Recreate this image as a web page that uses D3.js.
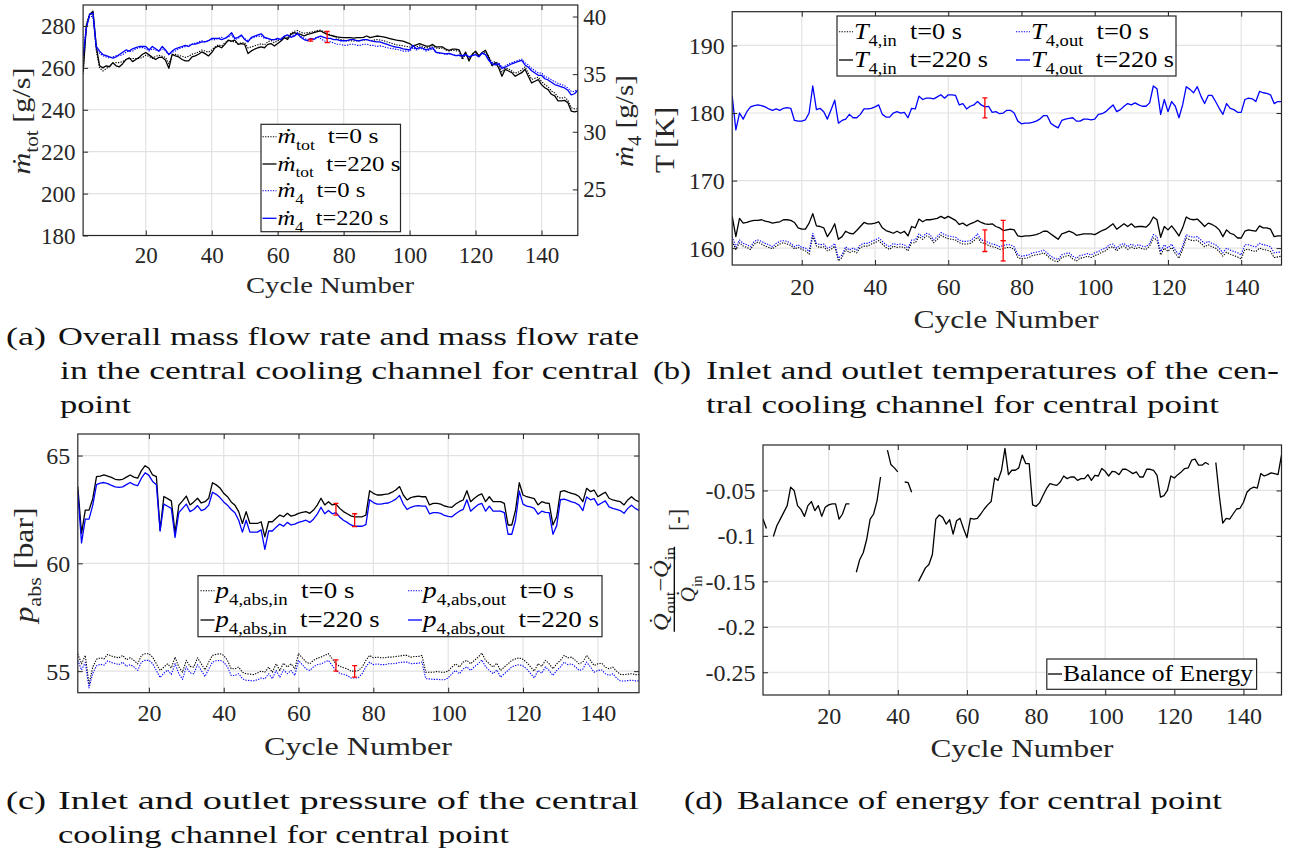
<!DOCTYPE html>
<html>
<head>
<meta charset="utf-8">
<script src="https://cdn.jsdelivr.net/npm/d3@7"></script>
<style>
  html, body { margin: 0; padding: 0; background: #fff; }
  svg { display: block; }
</style>
</head>
<body>
<svg id="fig" width="1301" height="858"></svg>
<script>
// ---- Data: cycle numbers and measured series ----
const cycles = d3.range(1, 152);
const xTicks = [20, 40, 60, 80, 100, 120, 140];

// (a) overall mass flow [g/s] and channel-4 mass flow [g/s]
const mTot0 = [257,281,286,285,268,260,258.5,259.5,261,262,
262.5,262.5,263,264,264.5,264.5,264.5,264.5,265,266,
265.5,264.5,265.5,266,265.5,265,262,266,266.5,266,
265.5,265,265.5,266.5,267,267.5,268.5,268,267.5,268.5,
270,271,270.5,272,273,272.5,272.5,271.5,272,272,
269.5,270,270.5,271,271.5,271,272.5,273,272,273,
273.5,275,274.5,276.5,277.5,277.8,277,276.5,276.8,277,
277.3,277.8,278,277.3,276.5,275.8,275,274,273.5,273.2,
273,273,272.8,273,273,273.2,273.5,273,273.2,273.5,
273.3,273,272.5,272,271.5,271,270.8,270.5,270.2,270,
269.5,270,270.5,270,269.5,269.8,270.5,269.5,269.3,269.5,
268.5,268,268.5,268.2,268,264,266.5,264,266.5,267.5,
265.5,267,267.5,265.5,262.5,263,261.5,258,260,259.5,
258.5,257.5,258,259,260.5,257.5,254.5,255,255.5,253.5,
252,251,249,248,246,245.5,246,244.5,241,240.5,
240.5];
const mTot220 = [258,280,285.5,287,270,261,260,261,260.5,262.5,
261,260.5,262,264,264.8,263,264,265,266.5,267.3,
266.2,265,264,265,265,263.6,259.8,266.5,265.7,265.2,
264,263.3,263.3,265.2,265.7,266.5,267.6,266.8,265.7,267.3,
269.6,270.4,269.6,271.2,273.2,272.8,273.2,271.2,271.6,271.2,
266.8,268.1,268.9,269.6,270,269.6,271.2,271.6,270.4,271.6,
272.8,274.4,273.6,276,276.8,276.3,276,275.2,276,276.3,
276.8,277.3,277.6,276.8,276,275.5,275.2,274.8,274.6,274.4,
274.4,274.4,274.2,274.4,274.4,274.6,275.2,274.4,274.8,275.2,
275,274.8,274.4,274,273.6,273.2,273,272.8,272.2,271.6,
270.4,271,271.6,271,270.4,270.4,271.2,270,270,270,
268.9,268.4,268.9,268.9,268.6,265,267.5,263.3,266.5,268,
265.7,267.3,268.4,264.9,261,262.5,260.1,256,259.3,258.5,
257.7,256,256.9,257.7,259.3,256,252.8,253.6,254.4,252,
250.5,249.6,247.4,246.6,244.2,244.2,244.5,243.4,239.4,239,
239.4];
const m4_0 = [36.8,39.2,40.0,40.0,37.2,36.8,36.6,36.5,36.4,36.5,
36.6,36.6,36.7,36.9,37.0,37.0,37.2,37.3,37.3,37.2,
37.0,37.2,37.1,37.0,37.2,37.0,36.7,36.9,37.0,37.2,
37.3,37.4,37.5,37.6,37.7,37.8,37.9,37.8,37.9,38.0,
38.0,38.1,38.2,38.1,38.2,38.4,38.0,38.1,38.3,38.1,
37.9,38.1,38.2,38.3,38.3,38.1,38.1,38.0,38.0,38.0,
38.1,38.3,38.4,38.3,38.4,38.6,38.3,38.1,38.0,38.0,
38.1,38.2,38.1,37.9,37.8,37.8,37.7,37.6,37.6,37.5,
37.5,37.6,37.6,37.5,37.5,37.6,37.6,37.5,37.5,37.4,
37.45,37.4,37.3,37.25,37.2,37.15,37.1,37.0,37.0,37.0,
37.3,37.1,37.2,37.2,37.0,37.1,37.2,36.9,36.8,36.8,
36.7,36.75,36.7,36.6,36.6,36.5,36.7,36.5,36.6,36.75,
36.5,36.8,36.7,36.3,36.0,35.9,36.0,35.6,35.7,35.9,
36.0,36.1,36.2,36.3,36.0,35.8,35.5,35.3,35.1,35.1,
34.8,34.7,34.5,34.35,34.2,34.1,34.0,33.8,33.5,33.5,
33.7];
const m4_220 = [36.5,39.0,40.2,40.3,37.4,37.0,36.7,36.6,36.5,36.4,
36.5,36.7,36.9,37.1,37.0,37.2,37.3,37.4,37.4,37.4,
37.1,37.4,37.2,37.0,37.4,37.1,36.7,37.0,37.2,37.3,
37.4,37.5,37.4,37.6,37.6,37.7,37.8,37.8,37.9,38.1,
38.1,38.1,38.0,38.1,38.3,38.6,38.1,38.2,38.4,38.0,
37.8,38.2,38.3,38.4,38.5,38.2,38.1,38.0,38.0,38.1,
38.0,38.3,38.4,38.2,38.3,38.5,38.2,38.0,37.9,38.1,
38.0,38.2,38.3,38.2,38.1,38.1,38.0,38.0,37.9,37.9,
37.9,38.0,38.0,37.9,37.9,38.0,38.0,37.9,37.85,37.8,
37.8,37.7,37.6,37.5,37.4,37.35,37.3,37.2,37.15,37.1,
37.5,37.2,37.3,37.25,37.1,37.2,37.3,36.9,36.85,36.8,
36.75,36.8,36.7,36.6,36.65,36.6,36.7,36.5,36.6,36.7,
36.5,36.85,36.7,36.2,35.9,35.8,35.9,35.5,35.6,35.75,
35.9,36.0,36.1,36.2,35.8,35.6,35.3,35.1,34.9,34.9,
34.6,34.5,34.3,34.1,34.0,33.9,33.8,33.6,33.2,33.3,
33.6];
const errA = [{c: 70, v: 37.95, e: 0.09}, {c: 75, v: 38.22, e: 0.48}];

// (b) channel-4 inlet / outlet temperature [K]
const tIn0 = [161.0,159.8,160.8,160.3,160.1,159.8,160.6,160.9,160.6,160.3,
160.1,159.9,160.3,160.6,160.8,160.6,160.4,159.9,160.1,159.8,
159.6,159.1,161.8,160.3,160.1,160.2,159.6,159.8,160.3,158.1,
158.6,159.8,159.3,159.6,159.3,160.1,160.3,160.3,160.6,160.8,
161.1,160.6,160.1,159.8,160.3,160.1,160.2,160.1,159.6,160.8,
160.8,161.7,161.3,161.8,161.6,160.8,161.3,161.9,161.6,161.4,
161.3,161.2,160.8,160.6,160.6,160.7,161.1,161.6,160.8,160.7,
160.4,160.2,160.1,159.8,159.9,160.1,160.1,159.8,158.6,158.4,
158.5,158.6,158.9,159.0,159.1,159.3,158.9,158.4,158.1,158.0,
158.6,158.8,158.9,158.4,158.1,158.5,158.6,158.8,158.6,158.9,
159.1,159.4,159.6,160.1,160.2,159.6,160.1,160.3,159.8,160.2,
159.9,160.1,159.9,159.8,160.3,161.5,161.2,159.0,160.0,159.5,
160.1,159.2,158.5,159.8,161.5,161.2,161.1,161.2,160.7,160.2,
160.5,160.2,160.0,159.5,158.8,159.4,159.1,158.9,158.7,158.4,
159.8,159.8,159.6,159.5,160.0,159.8,159.7,159.5,158.6,158.7,
158.8];
const tIn220 = [164.7,161.7,164.4,163.7,163.8,164.0,164.1,164.1,164.2,164.0,
163.9,163.7,163.8,163.9,164.2,164.2,164.1,163.8,163.0,162.8,
162.8,163.7,165.1,163.3,163.2,163.0,161.7,162.5,163.6,161.3,
161.7,162.5,162.2,162.1,162.6,163.2,163.8,163.6,163.6,163.7,
163.9,163.0,162.6,162.4,162.2,162.5,162.2,162.5,161.8,163.2,
163.0,164.3,163.9,164.2,164.2,164.3,164.4,164.7,164.4,164.7,
164.4,164.1,163.5,163.7,163.3,163.6,163.8,164.1,163.8,163.6,
163.5,163.6,163.2,163.0,162.6,162.7,162.8,162.7,161.8,161.7,
161.8,161.8,161.9,162.0,162.2,162.5,162.5,162.1,161.7,161.3,
162.1,162.3,162.5,162.3,161.9,162.0,162.1,162.1,162.1,162.0,
162.3,162.6,162.8,163.2,163.6,162.8,163.2,163.6,163.2,163.6,
163.1,163.2,163.2,163.1,163.6,164.6,164.2,161.6,163.2,162.7,
163.3,162.6,161.8,163.0,164.6,164.3,164.2,164.3,163.8,163.2,
163.7,163.5,163.2,162.7,161.7,162.7,162.2,162.0,161.5,161.5,
162.5,162.7,162.6,162.5,163.3,163.0,163.0,162.8,161.7,161.8,
161.8];
const tOut0 = [161.7,160.2,161.2,160.7,160.5,160.2,161.0,161.2,161.0,160.7,
160.5,160.2,160.7,161.0,161.1,161.0,160.7,160.2,160.5,160.1,
160.0,159.5,162.2,160.7,160.5,160.6,160.0,160.2,160.7,158.5,
159.0,160.2,159.7,160.0,159.7,160.5,160.7,160.7,161.0,161.2,
161.5,161.0,160.5,160.2,160.7,160.5,160.6,160.5,160.0,161.2,
161.2,162.1,161.7,162.2,162.0,161.2,161.7,162.3,162.0,161.8,
161.7,161.6,161.2,161.0,161.0,161.1,161.5,162.1,161.2,161.1,
160.8,160.6,160.5,160.2,160.4,160.5,160.5,160.2,159.0,158.8,
158.9,159.0,159.3,159.4,159.5,159.7,159.3,158.8,158.5,158.3,
159.0,159.2,159.3,158.8,158.5,158.9,159.0,159.2,159.0,159.3,
159.5,159.8,160.0,160.5,160.6,160.0,160.5,160.7,160.2,160.6,
160.3,160.5,160.3,160.2,160.7,162.0,161.7,159.5,160.5,160.0,
160.6,159.7,159.0,160.3,162.0,161.7,161.6,161.7,161.2,160.7,
161.0,160.7,160.5,160.0,159.3,160.0,159.7,159.5,159.3,159.0,
160.5,160.5,160.3,160.2,160.7,160.5,160.4,160.2,159.3,159.4,
159.4];
const tOut220 = [182.5,177.5,180.0,179.1,180.2,180.9,181.1,181.2,181.1,180.9,
180.6,180.4,180.6,180.4,180.7,180.8,180.7,178.9,178.8,178.8,
179.0,180.0,184.0,180.5,180.7,180.2,179.1,180.5,181.9,178.5,
178.9,179.1,179.8,179.3,179.3,179.8,180.6,180.6,180.7,180.9,
181.2,179.8,179.4,179.4,180.0,180.2,180.0,180.1,179.3,180.7,
180.6,182.5,182.0,182.2,182.2,182.1,182.4,182.7,182.2,182.7,
182.7,182.6,181.2,181.4,180.6,181.0,181.2,181.7,181.2,180.9,
181.0,180.1,180.2,179.9,180.0,180.4,180.4,180.0,178.8,178.4,
178.5,178.5,178.6,178.8,179.1,179.6,179.6,178.5,178.1,177.8,
178.9,179.1,179.2,179.3,178.8,178.8,179.1,179.1,179.0,179.1,
179.8,179.9,180.2,180.7,181.2,180.2,180.5,181.0,181.4,181.2,
181.5,181.2,181.0,181.0,181.5,184.0,183.6,179.8,182.0,180.2,
181.7,181.0,179.3,181.2,183.9,183.5,183.0,183.9,182.5,181.4,
182.6,182.6,181.7,180.7,179.8,181.4,180.7,180.5,180.1,180.1,
182.0,182.2,182.1,181.7,183.2,183.0,182.9,182.7,181.4,181.7,
181.7];
const errB = [{c: 70, v: 180.75, e: 1.48}, {c: 70, v: 161.1, e: 1.6},
              {c: 75, v: 162.6, e: 1.5}, {c: 75, v: 159.6, e: 1.5}];

// (c) channel-4 inlet / outlet absolute pressure [bar]
const pIn0 = [55.8,55.34,55.73,54.38,55.19,55.55,55.62,55.57,55.78,55.7,
55.65,55.62,55.73,55.53,55.62,55.5,55.34,55.73,55.81,55.81,
55.65,55.34,55.03,55.19,55.34,55.15,55.65,55.19,54.95,55.5,
55.22,55.19,55.62,55.34,55.06,55.42,55.73,55.78,55.81,55.73,
55.5,55.11,55.11,55.19,54.95,54.88,54.86,54.84,54.91,55.0,
54.95,55.19,54.95,55.34,55.03,55.37,55.19,55.34,55.11,55.81,
55.62,55.42,55.34,55.5,55.6,55.65,55.73,55.81,55.57,55.34,
55.22,55.16,55.11,55.0,55.0,55.03,55.19,55.5,55.73,55.62,
55.65,55.62,55.62,55.65,55.65,55.68,55.7,55.73,55.73,55.65,
55.68,55.68,55.73,54.95,54.95,54.95,54.98,54.95,54.95,55.0,
55.19,55.34,55.19,55.42,55.5,55.34,55.5,55.65,55.84,55.5,
55.34,55.19,55.37,55.03,55.19,55.34,55.5,55.57,55.62,55.55,
55.4,55.2,55.0,55.34,55.22,55.5,55.34,55.11,55.34,55.5,
55.73,55.62,55.65,55.5,55.34,55.42,55.73,55.5,55.26,55.34,
55.37,55.19,55.11,55.19,55.0,54.85,54.84,54.86,54.88,54.84,
54.84];
const pIn220 = [63.56,61.39,62.47,62.47,63.0,64.02,64.05,64.1,64.05,63.99,
63.9,63.87,63.9,64.0,64.1,64.0,63.95,64.3,64.53,64.41,
64.1,64.02,61.54,63.1,63.0,62.9,61.42,62.7,62.9,63.12,
62.71,62.85,63.02,62.8,62.86,63.02,63.74,63.64,63.5,63.25,
63.09,62.85,62.7,62.4,61.85,62.4,61.85,61.85,61.85,61.93,
61.23,61.93,61.93,62.09,62.24,62.16,62.32,62.19,62.24,62.32,
62.36,62.4,62.32,62.47,62.7,63.02,62.71,62.86,62.71,62.75,
62.55,62.4,62.3,62.2,62.16,62.16,62.16,62.24,63.37,63.25,
63.17,63.17,63.2,63.22,63.3,63.4,63.56,63.17,62.94,63.05,
63.09,63.12,63.09,63.09,62.71,62.78,62.78,62.75,62.66,62.62,
62.6,62.75,62.86,62.94,63.37,62.86,63.02,63.15,63.22,62.86,
63.09,62.86,62.86,62.86,62.78,61.78,61.78,62.47,63.74,63.17,
63.09,63.05,63.0,62.71,62.86,62.8,62.78,61.78,62.16,63.33,
63.37,63.3,63.25,63.2,63.1,62.86,63.48,63.33,63.4,63.09,
63.2,63.3,63.02,62.94,62.9,62.86,62.71,62.94,63.09,62.94,
62.86];
const pOut0 = [55.5,55.05,55.4,54.22,54.9,55.25,55.32,55.28,55.48,55.4,
55.35,55.3,55.42,55.22,55.3,55.2,55.03,55.42,55.5,55.5,
55.35,55.03,54.7,54.9,55.05,54.85,55.35,54.88,54.62,55.2,
54.92,54.88,55.3,55.03,54.75,55.1,55.42,55.48,55.5,55.42,
55.2,54.8,54.8,54.88,54.65,54.58,54.56,54.55,54.6,54.68,
54.64,54.88,54.65,55.03,54.72,55.06,54.88,55.03,54.8,55.5,
55.3,55.1,55.03,55.2,55.3,55.33,55.42,55.5,55.26,55.03,
54.9,54.85,54.8,54.68,54.68,54.7,54.88,55.2,55.42,55.3,
55.34,55.3,55.3,55.34,55.34,55.36,55.4,55.42,55.42,55.34,
55.36,55.36,55.42,54.65,54.64,54.62,54.62,54.6,54.6,54.68,
54.88,55.03,54.88,55.1,55.2,55.03,55.2,55.34,55.52,55.2,
55.03,54.88,55.06,54.72,54.88,55.03,55.2,55.26,55.3,55.24,
55.1,54.9,54.68,55.03,54.9,55.2,55.03,54.8,55.03,55.2,
55.42,55.3,55.34,55.2,55.03,55.1,55.42,55.2,54.95,55.03,
55.06,54.88,54.8,54.88,54.68,54.55,54.54,54.56,54.58,54.55,
54.55];
const pOut220 = [63.3,60.95,62.05,62.05,62.7,63.65,63.72,63.75,63.7,63.62,
63.55,63.52,63.55,63.65,63.75,63.65,63.6,63.95,64.2,64.08,
63.8,63.65,61.5,62.75,62.65,62.55,61.2,62.35,62.55,62.75,
62.4,62.5,62.68,62.45,62.52,62.7,63.3,63.2,63.05,62.85,
62.7,62.5,62.35,62.0,61.45,62.0,61.45,61.45,61.45,61.55,
60.65,61.5,61.5,61.68,61.82,61.72,61.9,61.78,61.82,61.9,
61.95,62.0,61.9,62.05,62.28,62.6,62.3,62.45,62.3,62.35,
62.15,62.0,61.9,61.78,61.72,61.72,61.72,61.8,62.95,62.82,
62.75,62.75,62.78,62.8,62.88,62.98,63.15,62.75,62.5,62.6,
62.65,62.68,62.65,62.65,62.3,62.35,62.35,62.32,62.22,62.18,
62.16,62.3,62.42,62.5,62.95,62.42,62.58,62.72,62.78,62.42,
62.65,62.42,62.42,62.42,62.35,61.35,61.35,62.0,63.35,62.75,
62.65,62.62,62.55,62.28,62.42,62.36,62.35,61.35,61.75,62.95,
62.98,62.92,62.85,62.8,62.7,62.45,63.08,62.95,63.0,62.7,
62.8,62.9,62.62,62.55,62.5,62.45,62.32,62.55,62.7,62.55,
62.45];
const errC = [{c: 70, v: 62.51, e: 0.27}, {c: 75, v: 62.0, e: 0.3},
              {c: 70, v: 55.26, e: 0.26}, {c: 75, v: 54.99, e: 0.27}];

// (d) relative energy balance (Q_out - Q_in) / Q_in; null = no valid value
const energy = [-0.0815,-0.0919,null,-0.1007,-0.0889,-0.0815,-0.0741,-0.0667,-0.0463,-0.05,
-0.0667,-0.0711,-0.0785,-0.0667,-0.0622,-0.0722,-0.0667,-0.0785,-0.0685,-0.0659,
-0.0648,-0.0648,-0.0815,-0.0759,-0.0648,-0.0648,null,-0.14,-0.1259,-0.1185,
-0.1037,-0.0815,-0.0759,-0.0611,-0.0352,null,-0.0056,-0.0215,-0.0252,-0.0296,
null,-0.0407,-0.0415,-0.0519,null,-0.15,-0.1426,-0.1352,-0.1315,-0.1204,
-0.0815,-0.077,-0.0796,-0.087,-0.0822,-0.0981,-0.0833,-0.0807,-0.0919,-0.1019,
-0.0807,-0.0815,-0.0807,-0.0759,-0.0704,-0.0659,-0.0622,-0.0363,-0.0389,-0.0278,
-0.0037,-0.0326,-0.0278,-0.0278,-0.0252,-0.0111,-0.0204,-0.0204,-0.0659,-0.0674,
-0.0637,-0.0556,-0.0481,-0.0426,-0.0437,-0.0444,-0.0407,-0.0341,-0.037,-0.0352,
-0.0352,-0.0389,-0.037,-0.037,-0.0326,-0.0389,-0.0333,-0.0341,-0.0259,-0.0289,
-0.0341,-0.0289,-0.0296,-0.0326,-0.0267,-0.0267,-0.0289,-0.0315,-0.0296,-0.0352,
-0.0352,-0.0267,-0.0267,-0.0278,-0.0333,-0.0574,-0.0556,-0.05,-0.0341,-0.0363,
-0.0326,-0.0296,-0.0259,-0.0252,-0.0167,-0.0156,-0.0222,-0.0222,-0.0193,-0.0215,
null,-0.0193,-0.0556,-0.0859,-0.0807,-0.0815,-0.0759,-0.0704,-0.0696,-0.063,
-0.0519,-0.0481,-0.0463,-0.0474,-0.0315,-0.0341,-0.0326,-0.0307,-0.0315,-0.0326,
-0.0111];

// ---- Drawing ----
const FONT = "'Liberation Serif', 'DejaVu Serif', serif";
const AXC = '#262626';
const GRID = '#e2e2e2';
const BLUE = '#0000ff';
const svg = d3.select('#fig');
svg.append('rect').attr('width', 1301).attr('height', 858).attr('fill', '#fff');

// text made of plain / italic / subscript pieces
function rich(sel, segs, fs) {
  let shift = 0;
  segs.forEach(s => {
    const t = sel.append('tspan').text(s.t);
    const target = s.sub ? fs * 0.3 : 0;
    if (target !== shift) { t.attr('dy', target - shift); shift = target; }
    if (s.sub) t.attr('font-size', fs * 0.7);
    if (s.it) t.attr('font-style', 'italic');
  });
}

function makePanel(p) {
  const g = svg.append('g');
  const x = d3.scaleLinear().domain([1, 151]).range([p.x0, p.x1]);
  const y = d3.scaleLinear().domain(p.yDom).range([p.y1, p.y0]);
  const yR = p.yRDom ? d3.scaleLinear().domain(p.yRDom).range([p.y1, p.y0]) : null;

  // grid
  g.append('g').selectAll('line').data(xTicks).join('line')
    .attr('x1', d => x(d)).attr('x2', d => x(d)).attr('y1', p.y0).attr('y2', p.y1)
    .attr('stroke', GRID).attr('stroke-width', 1.2);
  g.append('g').selectAll('line').data(p.yTicks).join('line')
    .attr('x1', p.x0).attr('x2', p.x1).attr('y1', d => y(d)).attr('y2', d => y(d))
    .attr('stroke', GRID).attr('stroke-width', 1.2);

  // clipped data layer
  const clipId = 'clip' + p.id;
  svg.append('clipPath').attr('id', clipId).append('rect')
    .attr('x', p.x0).attr('y', p.y0).attr('width', p.x1 - p.x0).attr('height', p.y1 - p.y0);
  const dl = g.append('g').attr('clip-path', `url(#${clipId})`);

  p.series.forEach(s => {
    const sc = s.right ? yR : y;
    const line = d3.line().defined(d => d[1] != null)
      .x(d => x(d[0])).y(d => sc(d[1]));
    dl.append('path').datum(cycles.map((c, i) => [c, s.values[i]]))
      .attr('d', line).attr('fill', 'none')
      .attr('stroke', s.color).attr('stroke-width', s.dash ? 1.1 : 1.3)
      .attr('stroke-dasharray', s.dash ? '1.3,1.3' : null)
      .attr('stroke-linejoin', 'round');
  });

  (p.err || []).forEach(e => {
    const sc = p.errRight ? yR : y;
    const cx = x(e.c), ya = sc(e.v + e.e), yb = sc(e.v - e.e);
    const eg = dl.append('g').attr('stroke', '#ff0000').attr('stroke-width', 1.3);
    eg.append('line').attr('x1', cx).attr('x2', cx).attr('y1', ya).attr('y2', yb);
    eg.append('line').attr('x1', cx - 2.5).attr('x2', cx + 2.5).attr('y1', ya).attr('y2', ya);
    eg.append('line').attr('x1', cx - 2.5).attr('x2', cx + 2.5).attr('y1', yb).attr('y2', yb);
  });

  // axes (inward ticks)
  const styleAxis = (ag, fs) => {
    ag.attr('font-family', FONT).attr('font-size', fs);
    ag.select('.domain').remove();
    ag.selectAll('.tick line').attr('stroke', AXC).attr('stroke-width', 1);
    ag.selectAll('.tick text').attr('fill', AXC);
  };
  const ab = g.append('g').attr('transform', `translate(0,${p.y1})`)
    .call(d3.axisBottom(x).tickValues(xTicks).tickSize(-5).tickFormat(d3.format('d')));
  styleAxis(ab, p.fs);
  ab.selectAll('.tick text').attr('y', p.xLabY - p.y1).attr('dy', 0);
  const at = g.append('g').attr('transform', `translate(0,${p.y0})`)
    .call(d3.axisTop(x).tickValues(xTicks).tickSize(-5).tickFormat(''));
  styleAxis(at, p.fs);
  const al = g.append('g').attr('transform', `translate(${p.x0},0)`)
    .call(d3.axisLeft(y).tickValues(p.yTicks).tickSize(-5).tickPadding(7.5).tickFormat(p.yFmt));
  styleAxis(al, p.fs);
  al.selectAll('.tick text').attr('dy', '0.33em');
  if (yR) {
    const ar = g.append('g').attr('transform', `translate(${p.x1},0)`)
      .call(d3.axisRight(yR).tickValues(p.yRTicks).tickSize(-5).tickPadding(5.5).tickFormat(d3.format('d')));
    styleAxis(ar, p.fs);
    ar.selectAll('.tick text').attr('dy', '0.33em');
  } else {
    const ar = g.append('g').attr('transform', `translate(${p.x1},0)`)
      .call(d3.axisRight(y).tickValues(p.yTicks).tickSize(-5).tickFormat(''));
    styleAxis(ar, p.fs);
  }

  // box
  g.append('rect').attr('x', p.x0).attr('y', p.y0)
    .attr('width', p.x1 - p.x0).attr('height', p.y1 - p.y0)
    .attr('fill', 'none').attr('stroke', AXC).attr('stroke-width', 1.2);

  // x label
  g.append('text').attr('x', p.xTitle[0]).attr('y', p.xTitle[1])
    .attr('text-anchor', 'middle').attr('font-family', FONT).attr('font-size', p.fs + 1)
    .attr('fill', AXC).attr('textLength', p.xTitle[2]).attr('lengthAdjust', 'spacingAndGlyphs')
    .text('Cycle Number');

  // legend
  if (p.legend) {
    const L = p.legend;
    const lg = g.append('g');
    lg.append('rect').attr('x', L.box[0]).attr('y', L.box[1])
      .attr('width', L.box[2] - L.box[0]).attr('height', L.box[3] - L.box[1])
      .attr('fill', '#fff').attr('stroke', AXC).attr('stroke-width', 1.2);
    L.items.forEach(it => {
      lg.append('line').attr('x1', it.x).attr('x2', it.x + 14).attr('y1', it.y).attr('y2', it.y)
        .attr('stroke', it.color).attr('stroke-width', it.dash ? 1.1 : 1.3)
        .attr('stroke-dasharray', it.dash ? '1.3,1.3' : null);
      const t = lg.append('text').attr('x', it.x + 15).attr('y', it.y + L.fs * 0.3)
        .attr('font-family', FONT).attr('font-size', L.fs).attr('fill', '#000');
      rich(t, it.label, L.fs);
      if (it.w) t.attr('textLength', it.w).attr('lengthAdjust', 'spacingAndGlyphs');
    });
  }
  return {x, y, yR, g};
}

const mdot = '\u1E41';
const gap = '\u00a0\u00a0';

// (a)
makePanel({
  id: 'a', x0: 83.1, x1: 577.8, y0: 5, y1: 235.5, fs: 23,
  yDom: [180, 290], yTicks: [180, 200, 220, 240, 260, 280], yFmt: d3.format('d'),
  yRDom: [21, 41], yRTicks: [25, 30, 35, 40],
  xLabY: 263, xTitle: [330, 293, 168],
  series: [
    {values: mTot0, color: '#000', dash: true},
    {values: mTot220, color: '#000'},
    {values: m4_0, color: BLUE, dash: true, right: true},
    {values: m4_220, color: BLUE, right: true}
  ],
  err: errA, errRight: true,
  legend: {box: [261, 124.3, 400.5, 231.7], fs: 22, items: [
    {x: 262.5, y: 136.7, w: 101, color: '#000', dash: true, label: [{t: mdot, it: 1}, {t: 'tot', sub: 1}, {t: gap + 't=0 s'}]},
    {x: 262.5, y: 164, w: 123, color: '#000', label: [{t: mdot, it: 1}, {t: 'tot', sub: 1}, {t: gap + 't=220 s'}]},
    {x: 262.5, y: 190.7, w: 88, color: BLUE, dash: true, label: [{t: mdot, it: 1}, {t: '4', sub: 1}, {t: gap + 't=0 s'}]},
    {x: 262.5, y: 218.3, w: 111, color: BLUE, label: [{t: mdot, it: 1}, {t: '4', sub: 1}, {t: gap + 't=220 s'}]}
  ]}
});

// (b)
makePanel({
  id: 'b', x0: 732.2, x1: 1281.5, y0: 11.7, y1: 265, fs: 24,
  yDom: [157.5, 195], yTicks: [160, 170, 180, 190], yFmt: d3.format('d'),
  xLabY: 294.5, xTitle: [1006, 328, 185],
  series: [
    {values: tIn0, color: '#000', dash: true},
    {values: tIn220, color: '#000'},
    {values: tOut0, color: BLUE, dash: true},
    {values: tOut220, color: BLUE}
  ],
  err: errB,
  legend: {box: [837, 16, 1176, 76], fs: 23, items: [
    {x: 839, y: 31.7, w: 108, color: '#000', dash: true, label: [{t: 'T', it: 1}, {t: '4,in', sub: 1}, {t: gap + 't=0 s'}]},
    {x: 839, y: 60, w: 134, color: '#000', label: [{t: 'T', it: 1}, {t: '4,in', sub: 1}, {t: gap + 't=220 s'}]},
    {x: 1016, y: 31.7, w: 118, color: BLUE, dash: true, label: [{t: 'T', it: 1}, {t: '4,out', sub: 1}, {t: gap + 't=0 s'}]},
    {x: 1016, y: 60, w: 143, color: BLUE, label: [{t: 'T', it: 1}, {t: '4,out', sub: 1}, {t: gap + 't=220 s'}]}
  ]}
});

// (c)
makePanel({
  id: 'c', x0: 77.8, x1: 639, y0: 434, y1: 692.7, fs: 24,
  yDom: [54, 66], yTicks: [55, 60, 65], yFmt: d3.format('d'),
  xLabY: 721, xTitle: [358, 755, 188],
  series: [
    {values: pIn0, color: '#000', dash: true},
    {values: pIn220, color: '#000'},
    {values: pOut0, color: BLUE, dash: true},
    {values: pOut220, color: BLUE}
  ],
  err: errC,
  legend: {box: [198, 575.7, 602, 636.7], fs: 23, items: [
    {x: 200.5, y: 590.7, w: 139, color: '#000', dash: true, label: [{t: 'p', it: 1}, {t: '4,abs,in', sub: 1}, {t: gap + 't=0 s'}]},
    {x: 200.5, y: 620, w: 164, color: '#000', label: [{t: 'p', it: 1}, {t: '4,abs,in', sub: 1}, {t: gap + 't=220 s'}]},
    {x: 408, y: 590.7, w: 151, color: BLUE, dash: true, label: [{t: 'p', it: 1}, {t: '4,abs,out', sub: 1}, {t: gap + 't=0 s'}]},
    {x: 408, y: 620, w: 176, color: BLUE, label: [{t: 'p', it: 1}, {t: '4,abs,out', sub: 1}, {t: gap + 't=220 s'}]}
  ]}
});

// (d)
makePanel({
  id: 'd', x0: 763, x1: 1281.5, y0: 445, y1: 695, fs: 24,
  yDom: [-0.275, 0], yTicks: [-0.25, -0.2, -0.15, -0.1, -0.05], yFmt: d => String(+d.toFixed(2)),
  xLabY: 724, xTitle: [1022, 757, 183],
  series: [{values: energy, color: '#000'}],
  legend: {box: [1046.8, 659, 1256.6, 689.3], fs: 23, items: [
    {x: 1048, y: 674, w: 190, color: '#000', label: [{t: 'Balance of Energy'}]}
  ]}
});

// ---- y-axis titles (rotated) ----
function yTitle(cx, cy, segs, fs, len) {
  const t = svg.append('text').attr('transform', `translate(${cx},${cy}) rotate(-90)`)
    .attr('text-anchor', 'middle').attr('font-family', FONT).attr('font-size', fs).attr('fill', AXC);
  rich(t, segs, fs);
  if (len) t.attr('textLength', len).attr('lengthAdjust', 'spacingAndGlyphs');
  return t;
}
yTitle(30, 121, [{t: mdot, it: 1}, {t: 'tot', sub: 1}, {t: '\u00a0[g/s]'}], 26, 107);
yTitle(633, 121, [{t: mdot, it: 1}, {t: '4', sub: 1}, {t: '\u00a0[g/s]'}], 26, 92);
yTitle(674, 140, [{t: 'T [K]'}], 27, 66);
yTitle(33, 565, [{t: 'p', it: 1}, {t: 'abs', sub: 1}, {t: '\u00a0[bar]'}], 27, 115);
// energy-balance fraction
yTitle(668, 589, [{t: 'Q\u0307', it: 1}, {t: 'out', sub: 1}, {t: '\u2212'}, {t: 'Q\u0307', it: 1}, {t: 'in', sub: 1}], 22, 84);
yTitle(695, 589, [{t: 'Q\u0307', it: 1}, {t: 'in', sub: 1}], 22, 27);
svg.append('line').attr('x1', 674.3).attr('x2', 674.3).attr('y1', 546.7).attr('y2', 631.7)
  .attr('stroke', '#000').attr('stroke-width', 1.3);
yTitle(685, 520, [{t: '[-]'}], 24, 22);

// ---- sub-figure captions ----
const captions = [
  {x: 6, y: 345, t: '(a)', w: 40}, {x: 58, y: 345, t: 'Overall mass flow rate and mass flow rate', w: 581},
  {x: 60, y: 379, t: 'in the central cooling channel for central', w: 579},
  {x: 60, y: 413, t: 'point', w: 71},
  {x: 653, y: 379, t: '(b)', w: 38}, {x: 706, y: 379, t: 'Inlet and outlet temperatures of the cen-', w: 573},
  {x: 706, y: 413, t: 'tral cooling channel for central point', w: 513},
  {x: 6, y: 809, t: '(c)', w: 40}, {x: 58, y: 809, t: 'Inlet and outlet pressure of the central', w: 581},
  {x: 58, y: 843, t: 'cooling channel for central point', w: 451},
  {x: 684, y: 809, t: '(d)', w: 39}, {x: 737, y: 809, t: 'Balance of energy for central point', w: 485}
];
captions.forEach(c => {
  svg.append('text').attr('x', c.x).attr('y', c.y)
    .attr('font-family', FONT).attr('font-size', 26).attr('fill', '#111')
    .attr('textLength', c.w).attr('lengthAdjust', 'spacingAndGlyphs').text(c.t);
});
</script>
</body>
</html>
